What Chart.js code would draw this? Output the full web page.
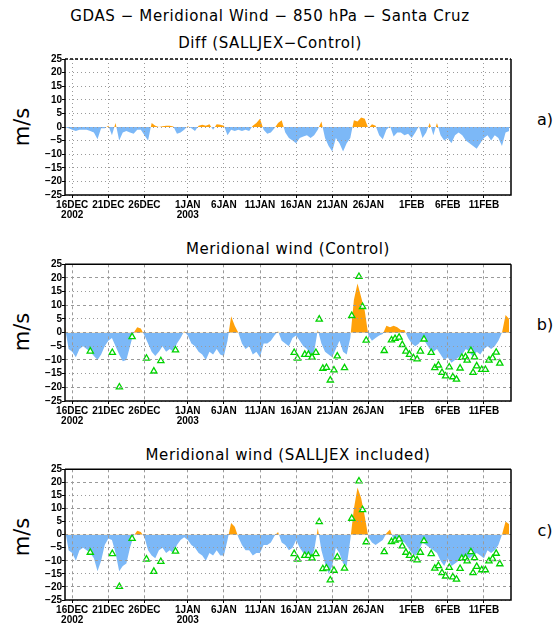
<!DOCTYPE html>
<html lang="en">
<head>
<meta charset="UTF-8">
<title>GDAS - Meridional Wind - 850 hPa - Santa Cruz</title>
<script src="https://cdn.jsdelivr.net/npm/chart.js"></script>
<style>
  body { margin: 0; width: 557px; height: 629px; overflow: hidden; background: #fff; position: relative; font-family: "DejaVu Sans", sans-serif; }
  canvas { position: absolute; left: 0; }
  .txt { position: absolute; transform: translate(-50%, -50%); white-space: pre; color: #000; line-height: 1; }
  .title { font-size: 15px; letter-spacing: 0.6px; }
  .unit { font-size: 21px; transform: translate(-50%, -50%) rotate(-90deg); }
  .tag { font-size: 16px; }
</style>
</head>
<body>
<div class="txt title" style="left:270px;top:16px">GDAS − Meridional Wind − 850 hPa − Santa Cruz</div>
<div class="txt title" style="left:270px;top:43px">Diff (SALLJEX−Control)</div>
<div class="txt title" style="left:288px;top:249px">Meridional wind (Control)</div>
<div class="txt title" style="left:288px;top:455px">Meridional wind (SALLJEX included)</div>
<div class="txt unit" style="left:22px;top:127px">m/s</div>
<div class="txt unit" style="left:22px;top:332px">m/s</div>
<div class="txt unit" style="left:22px;top:537px">m/s</div>
<div class="txt tag" style="left:545px;top:120px">a)</div>
<div class="txt tag" style="left:545px;top:325px">b)</div>
<div class="txt tag" style="left:545px;top:531px">c)</div>

<canvas id="diffChart" width="557" height="175" style="top:54px"></canvas>
<canvas id="ctrlChart" width="557" height="176" style="top:259px"></canvas>
<canvas id="salljexChart" width="557" height="170" style="top:464px"></canvas>

<script>
  // 12-hourly values, starting 15DEC2002 00Z (x = days since then)
  const diffWind = [0, -0.5, -1, -1.5, -1, -1, -1, -1.5, -2, -4.5,
    -0.5, -0.5, 0.5, -3, 1.5, -5, -2, -1.5, -2, -2.5,
    -1, -1, -3, -5, 1.5, 0.5, 0, 0.3, 0.5, 0.5,
    0.2, -2.5, -2, -1, 0.3, -0.5, -1.5, 0.5, 0.8, 0.5,
    1, -1, 1, 0.8, 0.5, -3, -1, -1.5, -1, -1.5,
    -1, -1.5, 0.5, 1.5, 3, -1, -2.5, -2, -0.5, 1.5,
    2.5, -2, -4, -5, -6, -4, -3.5, -3, -4, -3,
    -1, 2, -4, -7, -9, -4, -6, -9, -6, -4,
    2.5, 2, 3.5, 3, -0.5, 1, 0.5, -3, -4.5, -1,
    0.3, -3.5, -2, -2, -3, -2.5, -4, -2, 0.3, -4,
    -2, 1.5, -3, 1.5, -3, -5, -4, -6, -3, -2,
    -3, -5, -6, -7, -8, -6, -4, -3, -5, -3,
    -4, -7, -2, -1.5];

  const ctrlWind = [2, -6, -7, -9, -6, -5, -6, -7, -8.5, -10,
    -8, -5, -3, -2, -5, -8, -10.5, -10, -5, 0,
    2, 1.5, -1, -4, -7, -8.5, -7, -5, -7, -6,
    -7, -4, -2, 0.5, -1, -4, -5, -7, -8, -10,
    -7, -8, -6, -8, -8.5, -3, 6, 2.5, 0, -4,
    -6, -5, -8, -7, -9, -4, -4, -3, -1, 0.5,
    -3, -4, -5, -2, -1, -3, -5, -6, -8, -7,
    1, -4, -7, -8, -9, -6, -3, -7, -8, -2,
    12, 18, 13, 8, -1, -3, -2, -1, -0.5, 2.5,
    2, 2.5, 2, 1, 1, -2, -4, -5, -4, -2,
    -4, -6, -7, -6, -8, -10, -9, -11, -10, -9,
    -8, -6, -7, -9, -7, -8, -6, -5, -6, -5,
    -3, 0, 6.5, 5];

  const salljexWind = [2, -6, -7, -10, -6, -5, -6, -7, -9, -14,
    -10, -4, -1.5, -2, -7, -14, -12, -11, -5, -0.5,
    1.5, 1, -1, -6, -8, -9, -6, -5, -7, -6,
    -7, -4, -2, -1, -2, -4, -5, -7, -8, -10,
    -7, -8, -6, -8, -8, -2, 4.5, 3, -1, -4,
    -6, -6, -8, -7, -7, -4, -4, -3, -0.5, 1,
    -3, -4, -6, -5, -2, -5, -7, -9, -9, -6,
    2.5, -6, -11, -15, -12, -5, -7, -11, -12, -2,
    10, 18, 14, 7, -1, -3, -4, -3, -2, 0.5,
    2, -2, -2, -2.5, -3, -5, -7, -8, -6, -3,
    -4, -5, -6, -7, -10, -12, -9, -12, -11, -10,
    -9, -8, -9, -8, -7, -8, -9, -6, -7, -6,
    -4, 0, 5, 4];

  // SALLJEX soundings (green triangles)
  const obsDay = [3.5, 6.55, 7.53, 9.29, 11.28, 12.3, 13.27, 15.3,
    31.73, 32.2, 33.2, 33.7, 34.2, 34.74, 35.2, 35.7, 36.2, 36.73,
    37.24, 37.7, 38.7, 39.7, 40.7, 41.2, 41.7, 44.2, 45.2, 45.7,
    46.25, 46.7, 47.2, 47.7, 48.24, 48.75, 49.2, 49.7, 50.7, 51.2,
    51.7, 52.2, 52.7, 53.2, 53.7, 54.2, 54.7, 54.94, 55.45, 55.68,
    56.2, 56.5, 56.7, 57.0, 57.7, 58.2, 58.7, 59.2, 59.7, 60.2];
  const obsWind = [-6.8, -7.3, -19.9, -1.5, -9.4, -14.1, -10.3, -6.4,
    -7.3, -9.4, -8.0, -8.0, -9.0, -7.3, 4.9, -13.1, -12.8, -17.4,
    -13.7, -8.6, -12.9, 6.2, 20.5, 9.5, -2.8, -6.6, -2.7, -2.2,
    -1.7, -4.4, -6.8, -8.0, -9.2, -9.7, -6.8, -2.4, -7.3, -12.9,
    -11.9, -14.6, -15.9, -12.6, -16.2, -17.1, -13.0, -9.1, -8.9, -10.1,
    -6.6, -14.6, -8.9, -12.2, -13.5, -13.5, -10.1, -9.2, -7.2, -11.2];

  const tickDays = [1, 6, 11, 17, 22, 27, 32, 37, 42, 48, 53, 58];
  const tickLabels = [['16DEC', '2002'], '21DEC', '26DEC', ['1JAN', '2003'], '6JAN', '11JAN',
    '16JAN', '21JAN', '26JAN', '1FEB', '6FEB', '11FEB'];

  const stepDays = 0.5;
  const dayEnd = 61.75;

  const frame = {
    id: 'frame',
    afterDraw(chart, args, opts) {
      const { left, top, right, bottom } = chart.chartArea;
      const g = chart.ctx;
      g.save();
      g.strokeStyle = '#000';
      g.lineWidth = 1.5;
      g.beginPath();
      g.moveTo(left, top); g.lineTo(left, bottom); g.lineTo(right, bottom); g.lineTo(right, top);
      g.stroke();
      if (opts.dashTop) g.setLineDash([3, 2]);
      g.beginPath(); g.moveTo(left, top); g.lineTo(right, top); g.stroke();
      g.restore();
    }
  };

  const tickFont = { family: 'Liberation Sans', size: 10, weight: 'bold', lineHeight: 1 };

  function drawPanel(id, values, withObs, dotted) {
    const datasets = [{
      data: values.map((v, i) => ({ x: i * stepDays, y: v })),
      borderWidth: 0,
      borderColor: 'rgba(0,0,0,0)',
      pointRadius: 0,
      tension: 0,
      fill: { target: 'origin', above: '#ffa10a', below: '#7cb8f7' },
      order: 2
    }];
    if (withObs) {
      datasets.push({
        data: obsDay.map((d, i) => ({ x: d, y: obsWind[i] })),
        showLine: false,
        pointStyle: 'triangle',
        pointRadius: 3.6,
        pointBorderWidth: 1.3,
        pointBorderColor: '#00d400',
        pointBackgroundColor: '#fff',
        order: 1
      });
    }
    const yDash = ctx => dotted ? [1, 3] : (ctx.tick && ctx.tick.value % 10 === 0 ? [3, 3] : [1, 3]);
    new Chart(document.getElementById(id), {
      type: 'line',
      data: { datasets },
      options: {
        responsive: false,
        animation: false,
        layout: { padding: { top: 5, right: 46, left: 0, bottom: 0 } },
        plugins: { legend: { display: false }, tooltip: { enabled: false }, frame: { dashTop: dotted } },
        scales: {
          x: {
            type: 'linear', min: 0, max: dayEnd,
            afterBuildTicks: s => { s.ticks = tickDays.map(v => ({ value: v })); },
            afterFit: s => { s.height = 34; },
            ticks: {
              autoSkip: false, maxRotation: 0, padding: 2, color: '#000', font: tickFont,
              callback: (v, i) => tickLabels[i]
            },
            grid: { color: '#9a9a9a', tickColor: '#000', tickLength: 3, z: 1 },
            border: { display: false, dash: dotted ? [1, 3] : [3, 3] }
          },
          y: {
            min: -25, max: 25,
            afterFit: s => { s.width = 65; },
            ticks: {
              stepSize: 5, padding: 0, color: '#000', font: tickFont,
              callback: v => v < 0 ? '−' + Math.abs(v) : String(v)
            },
            grid: { color: '#9a9a9a', tickColor: '#000', tickLength: 3, z: 1 },
            border: { display: false, dash: yDash }
          }
        }
      },
      plugins: [frame]
    });
  }

  drawPanel('diffChart', diffWind, false, true);
  drawPanel('ctrlChart', ctrlWind, true, false);
  drawPanel('salljexChart', salljexWind, true, false);
</script>
</body>
</html>
